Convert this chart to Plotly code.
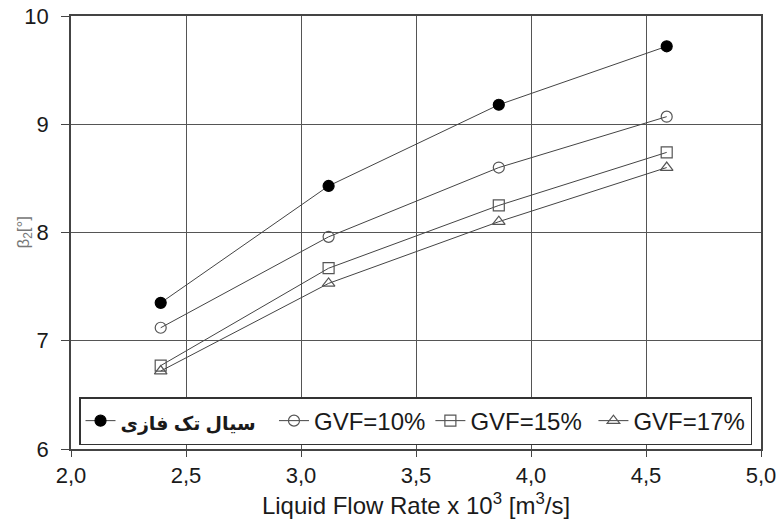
import plotly.graph_objects as go

x_flow = [2.39, 3.12, 3.86, 4.59]
single_phase = [7.35, 8.43, 9.18, 9.72]
gvf10 = [7.12, 7.96, 8.60, 9.07]
gvf15 = [6.77, 7.67, 8.25, 8.74]
gvf17 = [6.72, 7.53, 8.10, 8.60]

names = ["سیال تک فازی", "GVF=10%", "GVF=15%", "GVF=17%"]
series = [single_phase, gvf10, gvf15, gvf17]
symbols = ["circle", "circle-open", "square-open", "triangle-up-open"]
mcolors = ["black", "#555555", "#555555", "#555555"]

fig = go.Figure()
for name, ys, sym, mc in zip(names, series, symbols, mcolors):
    if name.startswith("سیال"):
        label = f"<span style='font-size:19px'><b>{name}</b></span>&nbsp;&nbsp;"
    elif name.endswith("15%"):
        label = name + "&nbsp;"
    else:
        label = name
    fig.add_trace(go.Scatter(
        x=x_flow, y=ys, name=label, mode="lines+markers",
        line=dict(color="#444444", width=1),
        marker=dict(symbol=sym, size=11, color=mc,
                    line=dict(color=mc, width=1.2)),
    ))

fig.update_layout(
    width=781, height=526,
    margin=dict(l=71, r=20, t=16, b=77, autoexpand=False),
    plot_bgcolor="white", paper_bgcolor="white",
    separators=", ",
    font=dict(family="Liberation Sans, Arial, DejaVu Sans", color="#1a1a1a", size=20),
    showlegend=True,
    legend=dict(
        orientation="h", x=0.0116, y=0.12, xanchor="left", yanchor="top",
        bgcolor="white", bordercolor="#333333", borderwidth=1.5,
        font=dict(size=24, family="Liberation Sans, DejaVu Sans", color="#1a1a1a"),
        itemwidth=30,
    ),
    annotations=[dict(
        text="β<sub>2</sub>[°]", xref="paper", yref="paper",
        x=-0.068, y=0.5, xanchor="center", yanchor="middle",
        textangle=-90, showarrow=False,
        font=dict(size=17, color="#777777"),
    )],
)
fig.update_xaxes(
    range=[2.0, 5.0], dtick=0.5, tickformat=".1f",
    showgrid=True, gridcolor="#555555", gridwidth=1.3,
    showline=True, linecolor="#444444", linewidth=1.5, mirror=True,
    ticks="outside", ticklen=6, tickcolor="#444444",
    tickfont=dict(size=22),
    title=dict(text="Liquid Flow Rate x 10<sup>3</sup> [m<sup>3</sup>/s]",
               font=dict(size=24), standoff=10),
    zeroline=False, automargin=False,
)
fig.update_yaxes(
    range=[6, 10], dtick=1,
    showgrid=True, gridcolor="#555555", gridwidth=1.3,
    showline=True, linecolor="#444444", linewidth=1.5, mirror=True,
    ticks="outside", ticklen=8, tickcolor="#444444",
    tickfont=dict(size=22), ticklabelstandoff=8,
    zeroline=False, automargin=False,
)

fig.write_html("out.html")
